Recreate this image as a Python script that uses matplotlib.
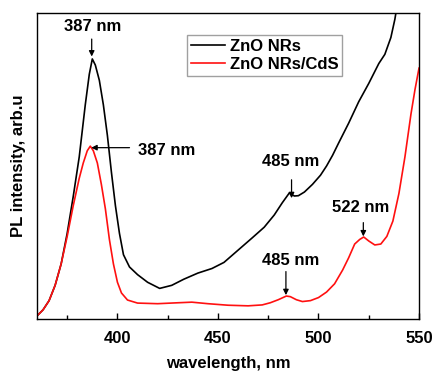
import numpy as np
import matplotlib
matplotlib.use("Agg")
import matplotlib.pyplot as plt

# datos ----------------------------------------------------------------------
wl_zno = [360, 363, 366, 369, 372, 375, 378, 381, 384, 386, 387.5, 389, 391, 393,
          395, 397, 399, 401, 403, 406, 410, 415, 421, 427, 433, 440, 447, 453,
          460, 467, 473, 478, 482, 485.5, 488, 490, 493, 497, 501, 504, 507, 510,
          515, 520, 525, 530, 533, 536, 538, 540]
pl_zno = [1, 3, 6, 11, 18, 28, 40, 53, 70, 80, 85, 83, 78, 70,
          60, 48, 37, 28, 21, 17, 14.5, 12, 10, 11, 13, 15, 16.5, 18.5,
          22.5, 26.5, 30, 34, 38, 41.2, 40.2, 40.3, 41.5, 44, 47, 50, 53.5, 57.5,
          64, 71, 77, 83.5, 86.5, 92, 98, 106]

wl_cds = [360, 363, 366, 369, 372, 375, 378, 381, 383, 385, 386.5, 388, 390, 392,
          394, 396, 398, 400, 402, 405, 410, 420, 430, 437, 445, 455, 465, 472,
          476, 480, 484, 486, 489, 492, 496, 500, 504, 508, 512, 515, 518, 520.5,
          522.5, 525, 528, 531, 534, 537, 540, 543, 546, 548, 550]
pl_cds = [1, 3, 6, 11, 18, 27, 37, 46, 51, 55, 56.5, 55, 51, 44,
          36, 26, 18, 12, 8.5, 6.2, 5.2, 5.0, 5.3, 5.5, 5.0, 4.5, 4.3, 4.6,
          5.3, 6.3, 7.5, 7.3, 6.3, 5.7, 6.0, 7.0, 8.8, 11.5, 16, 20, 24.5, 26,
          26.8, 25.5, 24.2, 24.5, 27, 32, 41, 53, 67, 75, 82]

labels = ["ZnO NRs", "ZnO NRs/CdS"]
xticks = [400, 450, 500, 550]

# etiquetas de picos: (texto, pos texto, punta flecha, cola flecha)
peaks = [
    ("387 nm", (387.8, 95.5), (387.2, 85.8), (387.2, 91.5)),
    ("387 nm", (424.5, 55.0), (387.0, 56.0), (406.0, 56.0)),
    ("485 nm", (486.2, 51.5), (486.6, 39.5), (486.6, 45.5)),
    ("485 nm", (486.2, 19.0), (483.8, 7.8), (483.8, 15.5)),
    ("522 nm", (521.0, 36.5), (522.3, 27.0), (522.3, 31.5)),
]

plt.rcParams['font.family'] = ['Liberation Sans', 'DejaVu Sans']
plt.rcParams['font.weight'] = 'bold'

fig = plt.figure(figsize=(4.33, 3.73), dpi=100)
ax = fig.add_axes([0.0855, 0.1448, 0.8822, 0.8202])

ax.plot(wl_zno, pl_zno, color="black", lw=1.2, label=labels[0])
ax.plot(wl_cds, pl_cds, color="#ff1010", lw=1.2, label=labels[1])

for txt, tpos, tip, tail in peaks:
    ax.text(tpos[0], tpos[1], txt, ha="center", va="center", fontsize=12, fontweight="bold")
    ax.annotate("", xy=tip, xytext=tail,
                arrowprops=dict(arrowstyle="-|>", color="black", lw=0.9, mutation_scale=8,
                                shrinkA=0, shrinkB=0))

ax.set_xlim(360, 550)
ax.set_ylim(0, 100)
ax.set_xticks(xticks)
ax.set_xticks([375, 425, 475, 525], minor=True)
ax.set_yticks([])
ax.tick_params(axis="x", direction="in", length=4, width=1, labelsize=12, pad=9)
ax.tick_params(axis="x", which="minor", direction="in", length=3, width=1)
for lb in ax.get_xticklabels():
    lb.set_fontweight("bold")
for s in ax.spines.values():
    s.set_linewidth(1.0)

ax.set_xlabel("wavelength, nm", fontsize=12, fontweight="bold", labelpad=7)
ax.set_ylabel("PL intensity, arb.u", fontsize=12, fontweight="bold", labelpad=8)

leg = ax.legend(loc="upper left", bbox_to_anchor=(0.393, 0.928), fontsize=12,
                frameon=True, fancybox=False, handlelength=2.0, handletextpad=0.3,
                borderpad=0.25, labelspacing=0.15, borderaxespad=0)
leg.get_frame().set_edgecolor("#888888")
leg.get_frame().set_linewidth(1.0)
for t in leg.get_texts():
    t.set_fontweight("bold")

fig.savefig("out.png", dpi=100)
